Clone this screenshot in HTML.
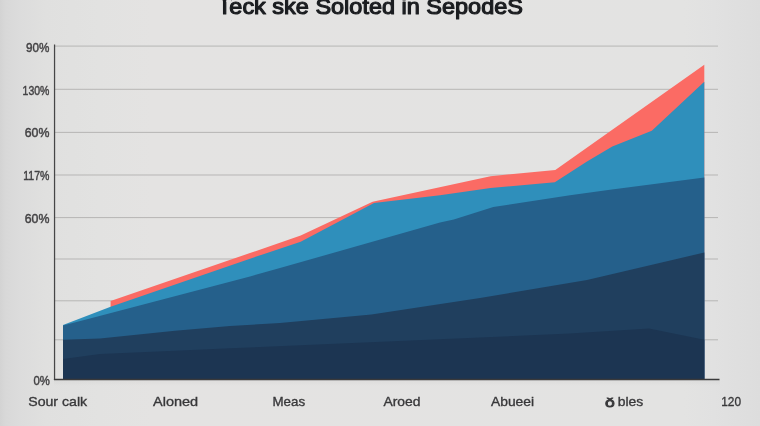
<!DOCTYPE html>
<html>
<head>
<meta charset="utf-8">
<title>Teck ske Soloted in SepodeS</title>
<style>
html,body{margin:0;padding:0;}
body{width:760px;height:426px;overflow:hidden;background:#e2e1e0;font-family:"Liberation Sans",sans-serif;}
svg{display:block;}
text{font-family:"Liberation Sans",sans-serif;}
</style>
</head>
<body>
<svg width="760" height="426" viewBox="0 0 760 426">
  <defs>
    <linearGradient id="bg" x1="0" y1="0" x2="760" y2="0" gradientUnits="userSpaceOnUse">
      <stop offset="0" stop-color="#d3d3d3"/>
      <stop offset="0.007" stop-color="#d8d8d8"/>
      <stop offset="0.026" stop-color="#dcdcdc"/>
      <stop offset="0.06" stop-color="#e0e0df"/>
      <stop offset="0.13" stop-color="#e2e2e1"/>
      <stop offset="0.2" stop-color="#e4e3e2"/>
      <stop offset="0.9" stop-color="#e3e3e2"/>
      <stop offset="0.94" stop-color="#e1e1e1"/>
      <stop offset="1" stop-color="#dddddd"/>
    </linearGradient>
    <linearGradient id="sh" x1="0" y1="380" x2="0" y2="386" gradientUnits="userSpaceOnUse">
      <stop offset="0" stop-color="#000" stop-opacity="0.03"/>
      <stop offset="1" stop-color="#000" stop-opacity="0"/>
    </linearGradient>
  </defs>
  <rect x="0" y="0" width="760" height="426" fill="url(#bg)"/>
  <rect x="54" y="380" width="666" height="6" fill="url(#sh)"/>

  <!-- grid lines -->
  <g stroke="#b0afae" stroke-width="0.88" fill="none">
    <line x1="54" y1="46.1" x2="718" y2="46.1"/>
    <line x1="54" y1="89.3" x2="718" y2="89.3"/>
    <line x1="54" y1="132.4" x2="718" y2="132.4"/>
    <line x1="54" y1="175" x2="718" y2="175"/>
    <line x1="54" y1="217.6" x2="718" y2="217.6"/>
    <line x1="54" y1="259" x2="718" y2="259"/>
    <line x1="54" y1="300.8" x2="718" y2="300.8"/>
    <line x1="54" y1="339.8" x2="718" y2="339.8"/>
  </g>

  <!-- areas -->
  <polygon fill="#fb6b64" points="110.6,301 250,253 300.7,235.6 372.6,201.7 490.5,176.2 555.3,169.9 704.3,64.8 704.3,379 110.6,379"/>
  <polygon fill="#2f8fbb" points="63,325 110.6,306.8 250,258.7 300.7,241.8 374,203.1 440,195.2 490.5,188 554.8,182.3 587,161.5 612.3,146.6 651.8,130.8 704.3,81.7 704.3,379 63,379"/>
  <polygon fill="#25608b" points="63,325.5 90,318.5 250,276.5 280,268 440,222.6 453.8,219.5 493.3,207.1 570,195.2 610,189.7 704.3,177.5 704.3,379 63,379"/>
  <polygon fill="#203f5e" points="63,339.7 100,338.5 175,330.8 230,326 280,322.9 371.4,314.4 480,298 587,280 704.3,252.5 704.3,379 63,379"/>
  <polygon fill="#1c3552" points="63,359 100,354 175,350.8 230,348.3 480,337.4 570,333.6 649,328.5 704.3,339.8 704.3,379 63,379"/>

  <!-- axes -->
  <line x1="54.55" y1="44.5" x2="54.55" y2="380" stroke="#464647" stroke-width="1.25"/>
  <line x1="53.9" y1="379.45" x2="719.5" y2="379.45" stroke="#3a3a3b" stroke-width="1.4"/>

  <!-- title -->
  <text x="217.6" y="14.1" font-size="22" fill="#1b1d20" stroke="#1b1d20" stroke-width="1.15" stroke-linejoin="round" textLength="305.3" lengthAdjust="spacingAndGlyphs">Teck ske Soloted in SepodeS</text>
  <path d="M215.5,0H222.7V2H215.5Z M226.3,0H231.7V2H226.3Z" fill="#e4e3e2"/>

  <!-- y labels -->
  <g font-size="12.9" fill="#434244" stroke="#434244" stroke-width="0.45" lengthAdjust="spacingAndGlyphs">
    <text x="26" y="51.8" textLength="23.4" lengthAdjust="spacingAndGlyphs">90%</text>
    <text x="22.6" y="94.5" textLength="26.8" lengthAdjust="spacingAndGlyphs">130%</text>
    <text x="24.7" y="137" textLength="24.7" lengthAdjust="spacingAndGlyphs">60%</text>
    <text x="23.2" y="180.2" textLength="26.2" lengthAdjust="spacingAndGlyphs">117%</text>
    <text x="24.7" y="222.8" textLength="24.7" lengthAdjust="spacingAndGlyphs">60%</text>
    <text x="33.5" y="384.8" textLength="16.4" lengthAdjust="spacingAndGlyphs">0%</text>
  </g>

  <!-- x labels -->
  <g font-size="13.4" fill="#38383a" stroke="#38383a" stroke-width="0.35">
    <text x="28.2" y="406.1" textLength="59" lengthAdjust="spacingAndGlyphs">Sour calk</text>
    <text x="153" y="406.1" textLength="45.2" lengthAdjust="spacingAndGlyphs">Aloned</text>
    <text x="272.5" y="406.1" textLength="32.6" lengthAdjust="spacingAndGlyphs">Meas</text>
    <text x="383.4" y="406.1" textLength="37.1" lengthAdjust="spacingAndGlyphs">Aroed</text>
    <text x="491" y="406.1" textLength="43" lengthAdjust="spacingAndGlyphs">Abueei</text>
    <text x="604.9" y="406.6" font-size="13.6" stroke-width="0.8" textLength="9.8" lengthAdjust="spacingAndGlyphs">ǒ</text>
    <text x="617.8" y="406.1" textLength="25.5" lengthAdjust="spacingAndGlyphs">bles</text>
    <text x="721.2" y="406.1" textLength="19.8" lengthAdjust="spacingAndGlyphs">120</text>
  </g>
</svg>
</body>
</html>
